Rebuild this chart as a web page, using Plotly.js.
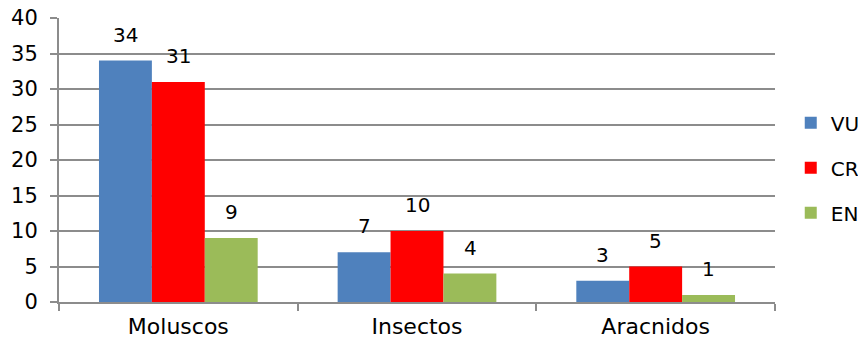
<!DOCTYPE html>
<html>
<head>
<meta charset="utf-8">
<script src="https://cdn.plot.ly/plotly-3.0.1.min.js"></script>
<style>html,body{margin:0;padding:0;background:#fff;}#chart{width:858px;height:342px;}</style>
</head>
<body>
<div id="chart"></div>
<script>
const categories = ["Moluscos", "Insectos", "Aracnidos"];
const seriesNames = ["VU", "CR", "EN"];
const vuValues = [34, 7, 3];
const crValues = [31, 10, 5];
const enValues = [9, 4, 1];
const yTicks = [0, 5, 10, 15, 20, 25, 30, 35, 40];

const colors = ["#4F81BD", "#FF0000", "#9BBB59"];
const allValues = [vuValues, crValues, enValues];
const font = "DejaVu Sans, Verdana, sans-serif";

const traces = allValues.map((vals, i) => ({
  type: "bar",
  name: seriesNames[i],
  x: categories,
  y: vals,
  marker: {color: colors[i], line: {width: 0}},
  legendgroup: "g" + i,
  hoverinfo: "none"
}));

const shifts = [-53, 0, 53];
const annotations = [];
allValues.forEach((vals, i) => {
  vals.forEach((v, j) => {
    annotations.push({
      x: categories[j], y: v, xref: "x", yref: "y",
      text: String(v), showarrow: false,
      xshift: shifts[i], yshift: 12, yanchor: "bottom",
      font: {family: font, size: 20, color: "#000"}
    });
  });
});

const layout = {
  width: 858, height: 342,
  margin: {l: 59, r: 83, t: 18, b: 40, autoexpand: false},
  paper_bgcolor: "#fff", plot_bgcolor: "#fff",
  barmode: "group",
  bargap: 0.335, bargroupgap: 0,
  showlegend: true,
  legend: {
    x: 1.022, xanchor: "left", y: 0.7, yanchor: "top",
    font: {family: font, size: 20, color: "#000"},
    tracegroupgap: 16, itemwidth: 30
  },
  xaxis: {
    type: "category",
    tickson: "boundaries",
    ticks: "outside", ticklen: 7, tickcolor: "#8c8c8c", tickwidth: 2,
    showline: true, linecolor: "#8c8c8c", linewidth: 2,
    showgrid: false, zeroline: false,
    ticklabelstandoff: 4,
    tickfont: {family: font, size: 22, color: "#000"},
    fixedrange: true
  },
  yaxis: {
    range: [0, 40], tickvals: yTicks,
    ticks: "outside", ticklen: 7, tickcolor: "#8c8c8c", tickwidth: 2,
    showline: true, linecolor: "#8c8c8c", linewidth: 2,
    showgrid: true, gridcolor: "#8c8c8c", gridwidth: 2,
    zeroline: false,
    ticklabelstandoff: 8,
    tickfont: {family: font, size: 21, color: "#000"},
    fixedrange: true
  },
  annotations: annotations
};

Plotly.newPlot("chart", traces, layout, {displayModeBar: false, staticPlot: true});
</script>
</body>
</html>
